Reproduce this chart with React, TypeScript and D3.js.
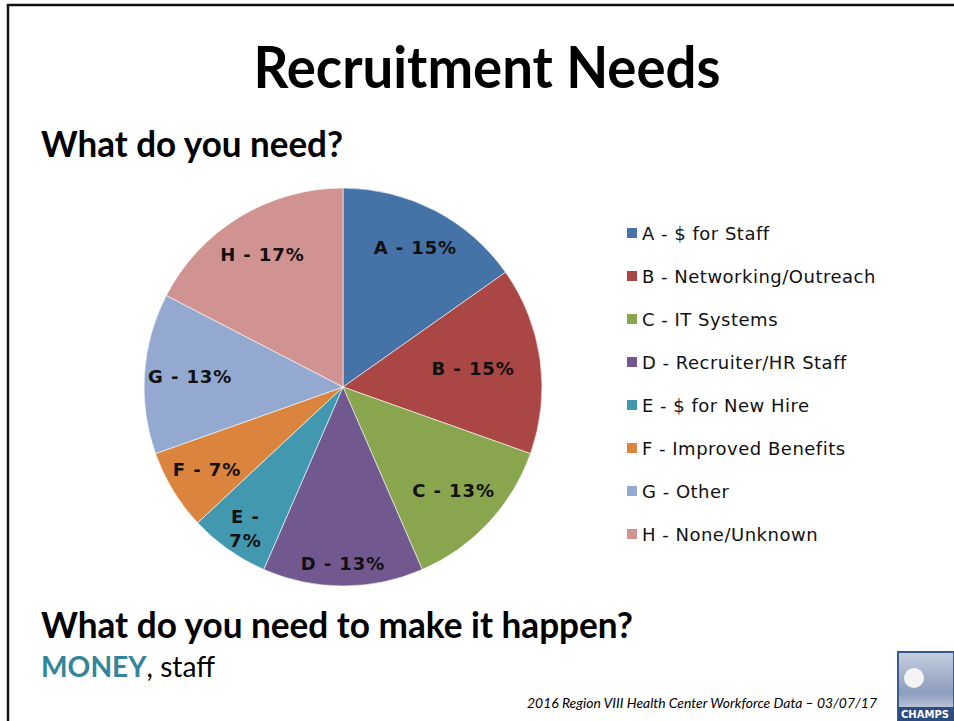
import { useEffect, useRef } from "react";
import * as d3 from "d3";

// slice data (counts read as % of 46 responses)
const keys = ["A", "B", "C", "D", "E", "F", "G", "H"];
const names = [
  "$ for Staff",
  "Networking/Outreach",
  "IT Systems",
  "Recruiter/HR Staff",
  "$ for New Hire",
  "Improved Benefits",
  "Other",
  "None/Unknown",
];
const counts = [7, 7, 6, 6, 3, 3, 6, 8];
const colors = ["#4572a7", "#aa4643", "#89a54e", "#71588f", "#4198af", "#db843d", "#93a9cf", "#d19392"];
// label distance from centre, as a share of the radius
const labelPos = [0.79, 0.66, 0.76, 0.89, 0.85, 0.8, 0.77, 0.78];

type Slice = { key: string; name: string; value: number; color: string; lr: number };

const slices: Slice[] = keys.map((k, i) => ({
  key: k,
  name: names[i],
  value: counts[i],
  color: colors[i],
  lr: labelPos[i],
}));

const width = 954;
const height = 721;
const cx = 343;
const cy = 387;
const radius = 199;

const App = () => {
  const svgRef = useRef<SVGSVGElement>(null);

  useEffect(() => {
    document.body.style.margin = "0";
    if (!svgRef.current) return;
    const svg = d3.select(svgRef.current);
    svg.selectAll("*").remove();

    svg.append("rect").attr("width", width).attr("height", height).attr("fill", "#fff");

    // slide frame (left + top edge)
    svg
      .append("path")
      .attr("d", "M8,721 V5 H954")
      .attr("fill", "none")
      .attr("stroke", "#111")
      .attr("stroke-width", 2.5);

    const heading = (txt: string, x: number, y: number, size: number, len: number, anchor = "start") =>
      svg
        .append("text")
        .attr("x", x)
        .attr("y", y)
        .attr("font-family", "Lato, 'Open Sans', sans-serif")
        .attr("font-weight", "bold")
        .attr("font-size", size)
        .attr("text-anchor", anchor)
        .attr("textLength", len)
        .attr("lengthAdjust", "spacingAndGlyphs")
        .attr("fill", "#000")
        .text(txt);

    heading("Recruitment Needs", 487, 88, 57, 467, "middle");
    heading("What do you need?", 41, 157, 36, 302);
    heading("What do you need to make it happen?", 41, 638, 36, 592);

    const money = svg
      .append("text")
      .attr("x", 41)
      .attr("y", 677)
      .attr("font-family", "Lato, 'Open Sans', sans-serif")
      .attr("font-size", 28)
      .attr("textLength", 174)
      .attr("lengthAdjust", "spacingAndGlyphs");
    money.append("tspan").attr("font-weight", "bold").attr("fill", "#31859c").text("MONEY");
    money.append("tspan").attr("fill", "#000").text(", staff");

    svg
      .append("text")
      .attr("x", 877)
      .attr("y", 708)
      .attr("text-anchor", "end")
      .attr("font-family", "Lato, 'Open Sans', sans-serif")
      .attr("font-style", "italic")
      .attr("font-size", 14)
      .attr("textLength", 350)
      .attr("lengthAdjust", "spacingAndGlyphs")
      .attr("fill", "#000")
      .text("2016 Region VIII Health Center Workforce Data \u2013 03/07/17");

    // pie
    const pie = d3
      .pie<Slice>()
      .value((d) => d.value)
      .sort(null);
    const arc = d3.arc<d3.PieArcDatum<Slice>>().innerRadius(0).outerRadius(radius);
    const arcs = pie(slices);

    const g = svg.append("g").attr("transform", `translate(${cx},${cy})`);
    g.selectAll("path")
      .data(arcs)
      .enter()
      .append("path")
      .attr("d", arc)
      .attr("fill", (d) => d.data.color)
      .attr("stroke", "#fff")
      .attr("stroke-width", 0.6);

    const labels = g
      .selectAll("text.lbl")
      .data(arcs)
      .enter()
      .append("text")
      .attr("class", "lbl")
      .attr("transform", (d) => {
        const r = radius * d.data.lr;
        const a = (d.startAngle + d.endAngle) / 2;
        return `translate(${Math.sin(a) * r},${-Math.cos(a) * r})`;
      })
      .attr("text-anchor", "middle")
      .attr("font-family", "'DejaVu Sans', Verdana, sans-serif")
      .attr("font-weight", "bold")
      .attr("font-size", 18)
      .attr("letter-spacing", 0.9)
      .attr("fill", "#111");

    labels.each(function (d) {
      const t = d3.select(this);
      const pct = `${Math.round((d.data.value / d3.sum(counts)) * 100)}%`;
      if (d.data.key === "E") {
        t.append("tspan").attr("x", 0).attr("dy", "-0.1em").text(`${d.data.key} -`);
        t.append("tspan").attr("x", 0).attr("dy", "1.3em").text(pct);
      } else {
        t.append("tspan").attr("x", 0).attr("dy", "0.35em").text(`${d.data.key} - ${pct}`);
      }
    });

    // legend
    const ly = d3
      .scalePoint<string>()
      .domain(keys)
      .range([233, 534]);
    const leg = svg
      .append("g")
      .selectAll("g")
      .data(slices)
      .enter()
      .append("g")
      .attr("transform", (d) => `translate(627,${ly(d.key)})`);
    leg
      .append("rect")
      .attr("x", 0)
      .attr("y", -5)
      .attr("width", 10)
      .attr("height", 10)
      .attr("fill", (d) => d.color);
    leg
      .append("text")
      .attr("x", 15)
      .attr("y", 6.5)
      .attr("font-family", "'DejaVu Sans', Verdana, sans-serif")
      .attr("font-size", 18)
      .attr("letter-spacing", 0.5)
      .attr("fill", "#111")
      .text((d) => `${d.key} - ${d.name}`);

    // small logo block in the corner
    const logo = svg.append("g").attr("transform", "translate(898,652)");
    const grad = svg
      .append("defs")
      .append("linearGradient")
      .attr("id", "lg")
      .attr("x1", 0)
      .attr("y1", 0)
      .attr("x2", 0)
      .attr("y2", 1);
    grad.append("stop").attr("offset", "0%").attr("stop-color", "#c5cfe0");
    grad.append("stop").attr("offset", "60%").attr("stop-color", "#8d9cbd");
    grad.append("stop").attr("offset", "100%").attr("stop-color", "#e5e9f0");
    logo.append("rect").attr("width", 56).attr("height", 69).attr("fill", "url(#lg)").attr("stroke", "#3b5b8c").attr("stroke-width", 2);
    logo.append("circle").attr("cx", 16).attr("cy", 26).attr("r", 10).attr("fill", "#f4f4f4");
    logo.append("rect").attr("x", 0).attr("y", 55).attr("width", 56).attr("height", 14).attr("fill", "#2d4d80");
    logo
      .append("text")
      .attr("x", 3)
      .attr("y", 66)
      .attr("font-family", "'DejaVu Sans', sans-serif")
      .attr("font-weight", "bold")
      .attr("font-size", 10)
      .attr("fill", "#fff")
      .text("CHAMPS");
  }, []);

  return <svg ref={svgRef} width={width} height={height} style={{ display: "block" }}></svg>;
};

export default App;
